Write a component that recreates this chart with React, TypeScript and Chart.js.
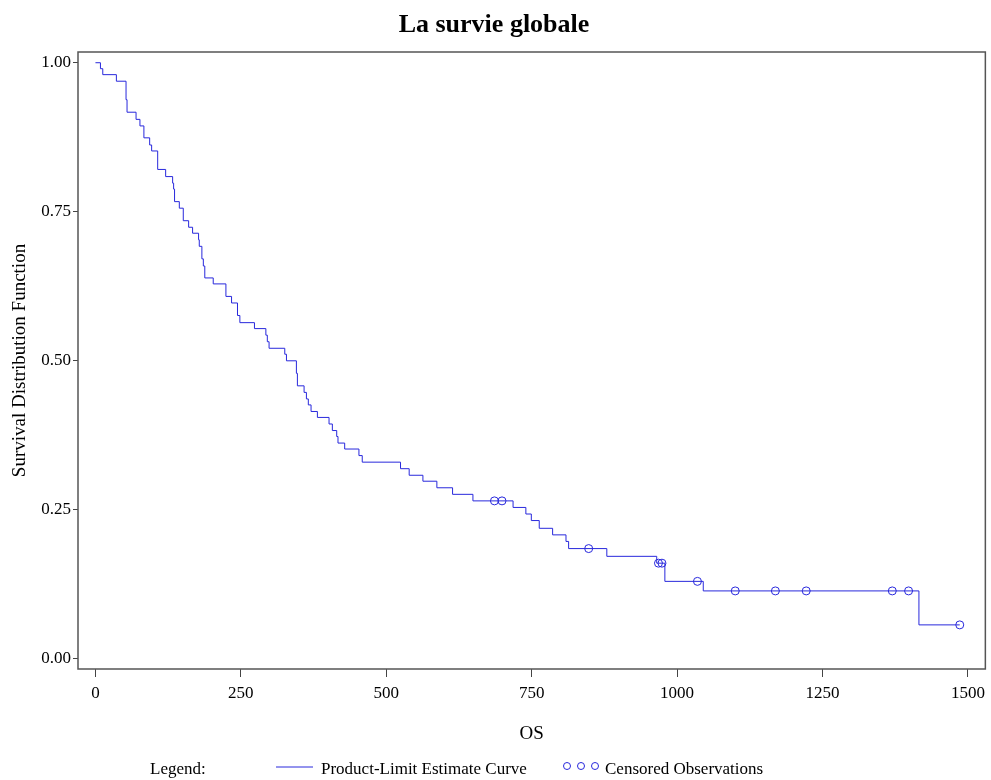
import React, { useEffect, useRef } from "react";
import { Chart, registerables } from "chart.js";

Chart.register(...registerables);

// Product-limit (Kaplan-Meier) estimate: time at which survival drops, and new survival value
const eventTimes = [
  0, 8.6, 12.6, 36, 52.6, 54.3, 69.8, 76.5, 83.3, 93.2, 96.6, 107, 120.7, 132.7, 134.4,
  136, 144.2, 151, 160.2, 167, 177.3, 178.5, 183, 185.5, 188, 202.5, 224.3, 234, 244.2,
  248.3, 273.4, 293, 295.5, 298.5, 325.5, 328.4, 345.5, 347.2, 358.7, 362.7, 366, 370.7,
  381.6, 401.6, 407.3, 414.8, 417, 428.5, 453, 458.7, 524.5, 539.4, 563, 587, 614, 649,
  718, 740, 749.4, 763, 786, 809, 813.5, 879.2, 965, 979, 1045, 1415.8,
];
const survival = [
  1.0, 0.99, 0.98, 0.969, 0.938, 0.917, 0.905, 0.894, 0.874, 0.862, 0.852, 0.821, 0.809,
  0.798, 0.788, 0.767, 0.756, 0.735, 0.724, 0.714, 0.703, 0.692, 0.671, 0.659, 0.639,
  0.629, 0.608, 0.597, 0.576, 0.564, 0.554, 0.543, 0.532, 0.521, 0.511, 0.5, 0.479, 0.458,
  0.447, 0.436, 0.426, 0.415, 0.405, 0.394, 0.383, 0.373, 0.362, 0.352, 0.341, 0.33,
  0.319, 0.308, 0.298, 0.287, 0.276, 0.265, 0.254, 0.243, 0.232, 0.219, 0.208, 0.197,
  0.185, 0.172, 0.1605, 0.13, 0.114, 0.057,
];
// Censored observations
const censoredTimes = [686, 699, 848, 968, 974, 1035, 1100, 1169, 1222, 1370, 1398, 1486];
const censoredSurvival = [
  0.265, 0.265, 0.185, 0.1605, 0.1605, 0.13, 0.114, 0.114, 0.114, 0.114, 0.114, 0.057,
];

const xTicks = [0, 250, 500, 750, 1000, 1250, 1500];
const yTicks = [0, 0.25, 0.5, 0.75, 1.0];

const titleText = "La survie globale";
const xTitle = "OS";
const yTitle = "Survival Distribution Function";
const legendLabel = "Legend:";
const curveLabel = "Product-Limit Estimate Curve";
const censoredLabel = "Censored Observations";

const BLUE = "#2828dc";
const SERIF = '"Liberation Serif", "Times New Roman", serif';

const framePlugin = {
  id: "frame",
  afterDraw(chart: any) {
    const { ctx, chartArea } = chart;
    ctx.save();
    ctx.strokeStyle = "#555";
    ctx.lineWidth = 1.5;
    ctx.strokeRect(
      chartArea.left,
      chartArea.top,
      chartArea.right - chartArea.left,
      chartArea.bottom - chartArea.top
    );
    ctx.restore();
  },
};

const legendPlugin = {
  id: "samplelegend",
  afterDraw(chart: any) {
    const { ctx } = chart;
    const y = 770;
    ctx.save();
    ctx.font = `17px ${SERIF}`;
    ctx.fillStyle = "#000";
    ctx.textBaseline = "middle";
    ctx.textAlign = "left";
    ctx.fillText(legendLabel, 150, y);
    ctx.strokeStyle = BLUE;
    ctx.lineWidth = 1;
    ctx.beginPath();
    ctx.moveTo(276, y - 3);
    ctx.lineTo(313, y - 3);
    ctx.stroke();
    ctx.fillText(curveLabel, 321, y);
    [567, 581, 595].forEach((cx) => {
      ctx.beginPath();
      ctx.arc(cx, y - 4, 3.5, 0, Math.PI * 2);
      ctx.stroke();
    });
    ctx.fillText(censoredLabel, 605, y);
    ctx.restore();
  },
};

export default function App() {
  const canvasRef = useRef<HTMLCanvasElement | null>(null);

  useEffect(() => {
    if (!canvasRef.current) return;
    const curve = eventTimes.map((t, i) => ({ x: t, y: survival[i] }));
    // extend the last level to the last (censored) observation
    curve.push({
      x: censoredTimes[censoredTimes.length - 1],
      y: survival[survival.length - 1],
    });
    const censored = censoredTimes.map((t, i) => ({ x: t, y: censoredSurvival[i] }));

    const chart = new Chart(canvasRef.current, {
      type: "line",
      data: {
        datasets: [
          {
            label: curveLabel,
            data: curve,
            stepped: "before",
            borderColor: BLUE,
            borderWidth: 1,
            pointRadius: 0,
            fill: false,
          },
          {
            label: censoredLabel,
            data: censored,
            showLine: false,
            pointStyle: "circle",
            pointRadius: 4,
            pointBorderWidth: 1,
            pointBorderColor: BLUE,
            pointBackgroundColor: "rgba(0,0,0,0)",
          },
        ],
      },
      options: {
        animation: false,
        responsive: false,
        layout: { padding: { left: 0, right: 3, top: 0, bottom: 0 } },
        plugins: {
          legend: { display: false },
          tooltip: { enabled: false },
          title: {
            display: true,
            text: titleText,
            color: "#000",
            font: { family: SERIF, size: 26, weight: "bold" },
            padding: { top: 9.4, bottom: 11.4 },
          },
        },
        scales: {
          x: {
            type: "linear",
            min: -30,
            max: 1530,
            afterBuildTicks: (s: any) => {
              s.ticks = xTicks.map((v) => ({ value: v }));
            },
            afterFit: (s: any) => {
              s.height = 111;
            },
            ticks: {
              color: "#000",
              font: { family: SERIF, size: 17 },
              padding: 6,
              maxRotation: 0,
              callback: (v: any) => String(v),
            },
            grid: {
              drawOnChartArea: false,
              drawTicks: true,
              tickLength: 8,
              color: "#444",
            },
            border: { display: false },
            title: {
              display: true,
              text: xTitle,
              color: "#000",
              font: { family: SERIF, size: 19 },
              padding: { top: 0, bottom: 34.6 },
            },
          },
          y: {
            type: "linear",
            min: -0.017,
            max: 1.018,
            afterBuildTicks: (s: any) => {
              s.ticks = yTicks.map((v) => ({ value: v }));
            },
            afterFit: (s: any) => {
              s.width = 78;
            },
            ticks: {
              color: "#000",
              font: { family: SERIF, size: 17 },
              padding: 2,
              callback: (v: any) => Number(v).toFixed(2),
            },
            grid: {
              drawOnChartArea: false,
              drawTicks: true,
              tickLength: 5,
              color: "#444",
            },
            border: { display: false },
            title: {
              display: true,
              text: yTitle,
              color: "#000",
              font: { family: SERIF, size: 19 },
              padding: { top: 8.6, bottom: 0 },
            },
          },
        },
      },
      plugins: [framePlugin, legendPlugin],
    } as any);

    return () => chart.destroy();
  }, []);

  return (
    <div style={{ position: "absolute", left: 0, top: 0, width: 991, height: 780, background: "#fff" }}>
      <canvas ref={canvasRef} width={991} height={780} style={{ display: "block" }} />
    </div>
  );
}
